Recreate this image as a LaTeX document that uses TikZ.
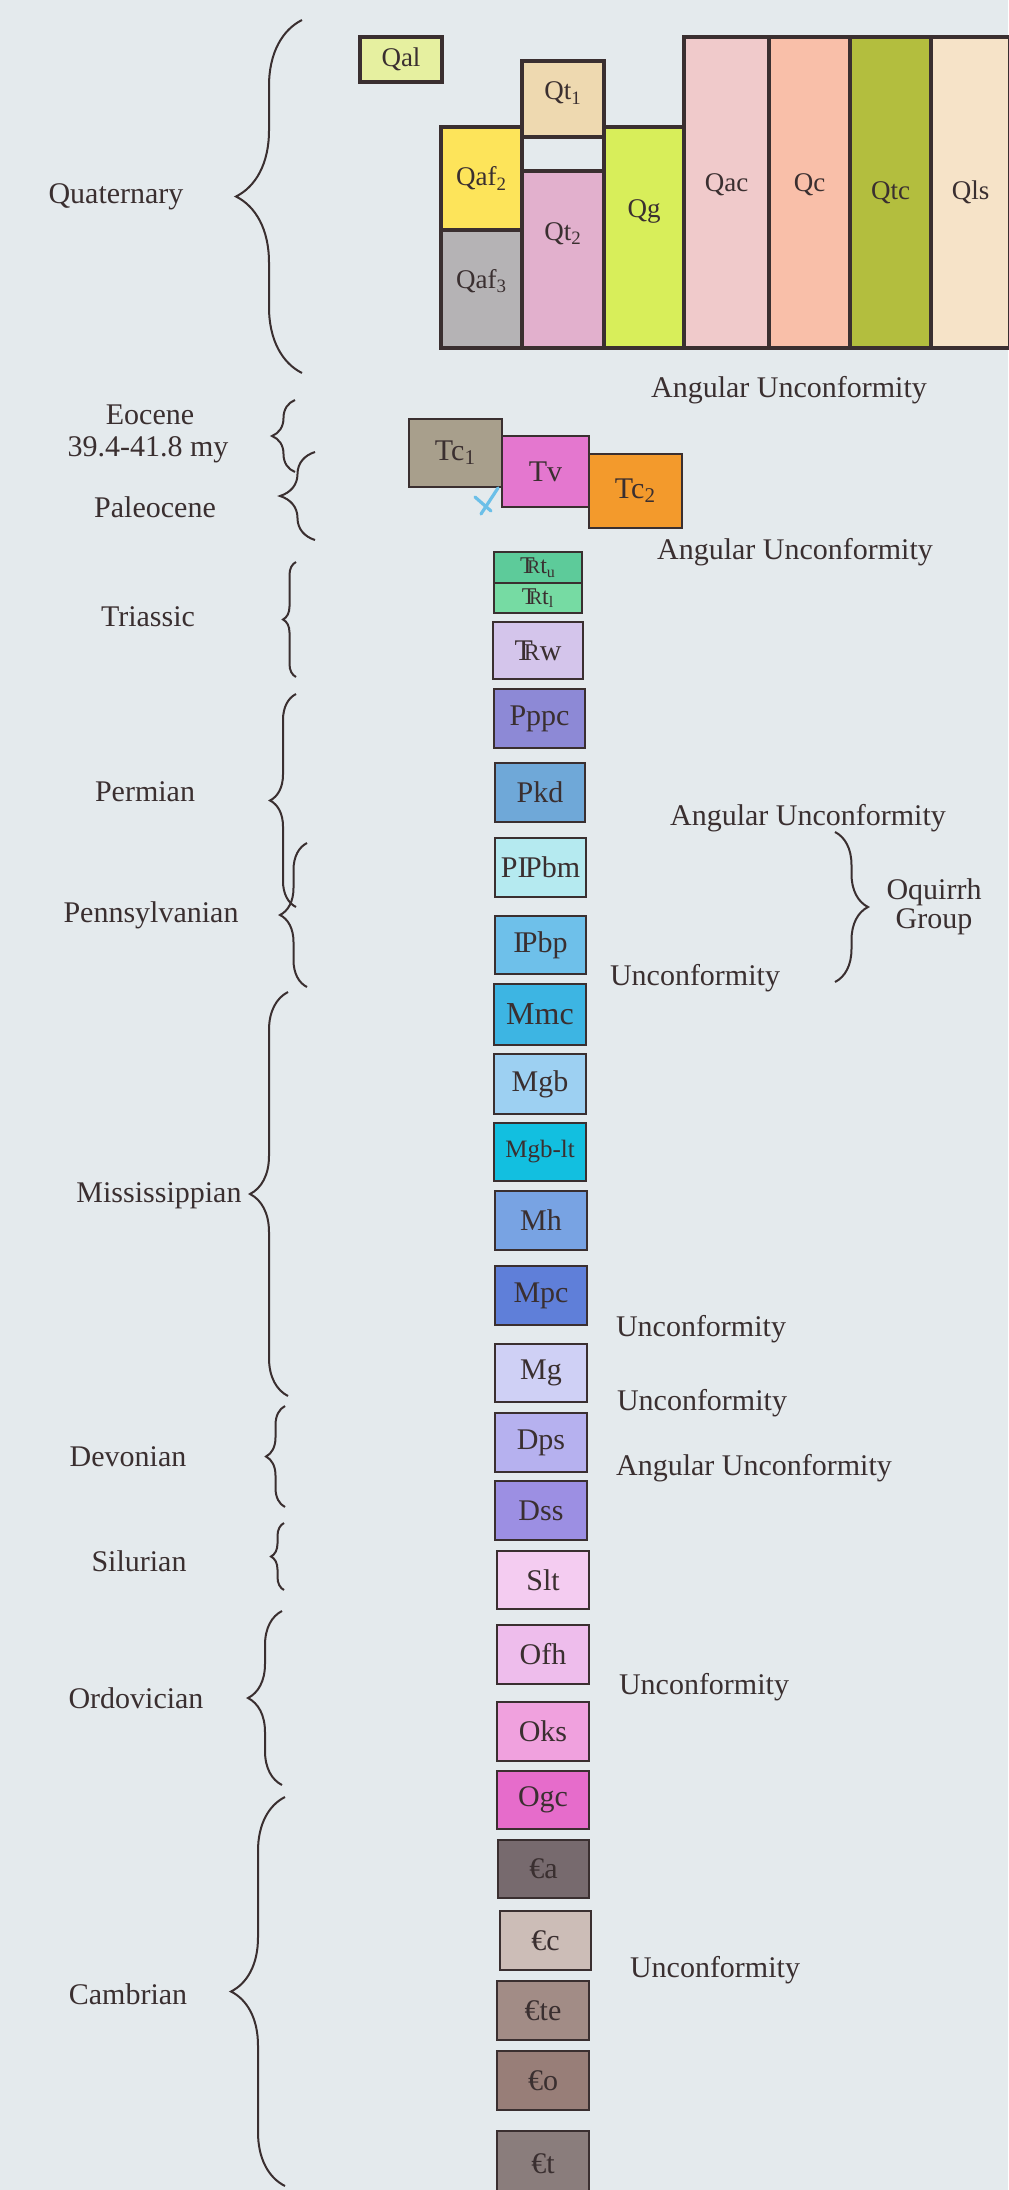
\documentclass[tikz,border=0pt]{standalone}
\usepackage{fontspec}
\setmainfont{Liberation Serif}
\usetikzlibrary{decorations.pathreplacing}

\definecolor{bg}{HTML}{E4EAED}
\definecolor{edge}{HTML}{3A2F30}
\definecolor{tick}{HTML}{6BBFE8}
\definecolor{cQal}{HTML}{E6F0A0}
\definecolor{cQtone}{HTML}{EED9B0}
\definecolor{cQaftwo}{HTML}{FDE45A}
\definecolor{cQafthree}{HTML}{B5B3B5}
\definecolor{cQttwo}{HTML}{E2B0CD}
\definecolor{cQg}{HTML}{D8EE5A}
\definecolor{cQac}{HTML}{F0CACB}
\definecolor{cQc}{HTML}{F9BFA9}
\definecolor{cQtc}{HTML}{B3BE3E}
\definecolor{cQls}{HTML}{F6E3C8}
\definecolor{cTcone}{HTML}{A89F8C}
\definecolor{cTv}{HTML}{E477CF}
\definecolor{cTctwo}{HTML}{F39A2C}
\definecolor{cTru}{HTML}{5DCB9A}
\definecolor{cTrl}{HTML}{76DBA3}
\definecolor{cTrw}{HTML}{D4C5EB}
\definecolor{cPppc}{HTML}{8D89D6}
\definecolor{cPkd}{HTML}{6FA8D8}
\definecolor{cPPbm}{HTML}{B5EAF0}
\definecolor{cPPbp}{HTML}{6EC0EA}
\definecolor{cMmc}{HTML}{3DB5E3}
\definecolor{cMgb}{HTML}{9DD0F2}
\definecolor{cMgblt}{HTML}{12BFE0}
\definecolor{cMh}{HTML}{78A3E3}
\definecolor{cMpc}{HTML}{5F7FD9}
\definecolor{cMg}{HTML}{CFD0F5}
\definecolor{cDps}{HTML}{B6B1EF}
\definecolor{cDss}{HTML}{9C8FE3}
\definecolor{cSlt}{HTML}{F4CCF1}
\definecolor{cOfh}{HTML}{EEBDEC}
\definecolor{cOks}{HTML}{F0A1DE}
\definecolor{cOgc}{HTML}{E66CCB}
\definecolor{cCa}{HTML}{776A6E}
\definecolor{cCc}{HTML}{CCBDB7}
\definecolor{cCte}{HTML}{A28C86}
\definecolor{cCo}{HTML}{987E78}
\definecolor{cCt}{HTML}{8A7D7C}

\newcommand{\triassic}{T\kern-.3em\scalebox{.8}{R}}
\newcommand{\penn}{I\kern-.08em P}

\begin{document}
\begin{tikzpicture}[x=0.5pt, y=-0.5pt, font=\fontsize{15}{15}\selectfont, text=edge,
    unitbox/.style={draw=edge, line width=1.4pt},
    qbox/.style={draw=edge, line width=1.6pt},
    qlabel/.style={font=\fontsize{13.5}{13.5}\selectfont},
    small/.style={font=\fontsize{12}{12}\selectfont, inner sep=1pt},
    erabrace/.style={decorate, decoration={brace, amplitude=#1}, draw=edge, line width=1pt}]

    \fill[bg] (0,0) rectangle (1008,2190);
    \useasboundingbox (0,0) rectangle (1008,2190);

    % Quaternary
    \draw[qbox, fill=cQal] (360,37) rectangle (442,82) node[midway, qlabel] (Qal) {Qal};
    \draw[qbox, fill=cQtone] (522,61) rectangle (604,137) node[midway, qlabel, yshift=3pt] (Qt1) {Qt\textsubscript{1}};
    \draw[qbox, fill=cQaftwo] (441,127) rectangle (522,230) node[midway, qlabel] (Qaf2) {Qaf\textsubscript{2}};
    \draw[qbox, fill=cQafthree] (441,230) rectangle (522,348) node[midway, qlabel, yshift=4pt] (Qaf3) {Qaf\textsubscript{3}};
    \draw[qbox, fill=cQttwo] (522,171) rectangle (604,348) node[midway, qlabel, yshift=13pt] (Qt2) {Qt\textsubscript{2}};
    \draw[qbox, fill=cQg] (604,127) rectangle (684,348) node[midway, qlabel, yshift=13pt] (Qg) {Qg};
    \draw[qbox, fill=cQac] (684,37) rectangle (769,348) node[midway, qlabel, yshift=4pt] (Qac) {Qac};
    \draw[qbox, fill=cQc] (769,37) rectangle (850,348) node[midway, qlabel, yshift=4pt] (Qc) {Qc};
    \draw[qbox, fill=cQtc] (850,37) rectangle (931,348) node[midway, qlabel] (Qtc) {Qtc};
    \draw[qbox, fill=cQls] (931,37) rectangle (1010,348) node[midway, qlabel] (Qls) {Qls};

    % Tertiary
    \draw[unitbox, fill=cTcone] (409,419) rectangle (502,487) node[midway] (Tc1) {Tc\textsubscript{1}};
    \draw[unitbox, fill=cTv] (502,436) rectangle (589,507) node[midway] (Tv) {Tv};
    \draw[unitbox, fill=cTctwo] (589,454) rectangle (682,528) node[midway] (Tc2) {Tc\textsubscript{2}};
    \draw[tick, line width=1.6pt, line cap=round] (498,488) -- (481,514);
    \draw[tick, line width=1.6pt, line cap=round] (475,497) -- (491,511);

    % column
    \draw[unitbox, fill=cTru] (494,552) rectangle (582,583) node[midway, small] (Tru) {\triassic t\textsubscript{u}};
    \draw[unitbox, fill=cTrl] (494,583) rectangle (582,613) node[midway, small] (Trl) {\triassic t\textsubscript{l}};
    \draw[unitbox, fill=cTrw] (493,622) rectangle (583,679) node[midway] (Trw) {\triassic w};
    \draw[unitbox, fill=cPppc] (494,689) rectangle (585,748) node[midway] (Pppc) {Pppc};
    \draw[unitbox, fill=cPkd] (495,763) rectangle (585,822) node[midway] (Pkd) {Pkd};
    \draw[unitbox, fill=cPPbm] (495,838) rectangle (586,897) node[midway] (PPbm) {P\penn bm};
    \draw[unitbox, fill=cPPbp] (495,916) rectangle (586,974) node[midway] (PPbp) {\penn bp};
    \draw[unitbox, fill=cMmc] (494,984) rectangle (586,1045) node[midway, font=\fontsize{16}{16}\selectfont] (Mmc) {Mmc};
    \draw[unitbox, fill=cMgb] (494,1054) rectangle (586,1114) node[midway] (Mgb) {Mgb};
    \draw[unitbox, fill=cMgblt] (494,1123) rectangle (586,1181) node[midway, font=\fontsize{12.5}{12.5}\selectfont] (Mgblt) {Mgb-lt};
    \draw[unitbox, fill=cMh] (495,1191) rectangle (587,1250) node[midway] (Mh) {Mh};
    \draw[unitbox, fill=cMpc] (495,1266) rectangle (587,1325) node[midway] (Mpc) {Mpc};
    \draw[unitbox, fill=cMg] (495,1344) rectangle (587,1402) node[midway] (Mg) {Mg};
    \draw[unitbox, fill=cDps] (495,1413) rectangle (587,1472) node[midway] (Dps) {Dps};
    \draw[unitbox, fill=cDss] (495,1481) rectangle (587,1540) node[midway] (Dss) {Dss};
    \draw[unitbox, fill=cSlt] (497,1551) rectangle (589,1609) node[midway] (Slt) {Slt};
    \draw[unitbox, fill=cOfh] (497,1625) rectangle (589,1684) node[midway] (Ofh) {Ofh};
    \draw[unitbox, fill=cOks] (497,1702) rectangle (589,1761) node[midway] (Oks) {Oks};
    \draw[unitbox, fill=cOgc] (497,1771) rectangle (589,1829) node[midway] (Ogc) {Ogc};
    \draw[unitbox, fill=cCa] (498,1840) rectangle (589,1898) node[midway] (Ca) {€a};
    \draw[unitbox, fill=cCc] (500,1911) rectangle (591,1970) node[midway] (Cc) {€c};
    \draw[unitbox, fill=cCte] (497,1981) rectangle (589,2040) node[midway] (Cte) {€te};
    \draw[unitbox, fill=cCo] (497,2051) rectangle (589,2110) node[midway] (Co) {€o};
    \draw[unitbox, fill=cCt] (497,2131) rectangle (589,2196) node[midway] (Ct) {€t};

    % periods
    \node (quaternary) at (116,197) {Quaternary};
    \node[inner sep=1pt] (eocene) at (150,415) {Eocene};
    \node[inner sep=1pt] (eoceneage) at (148,450) {39.4-41.8 my};
    \node (paleocene) at (155,507) {Paleocene};
    \node (triassic) at (148,617) {Triassic};
    \node (permian) at (145,792) {Permian};
    \node (pennsylvanian) at (151,915) {Pennsylvanian};
    \node (mississippian) at (159,1196) {Mississippian};
    \node (devonian) at (128,1457) {Devonian};
    \node (silurian) at (139,1561) {Silurian};
    \node (ordovician) at (136,1698) {Ordovician};
    \node (cambrian) at (128,1994) {Cambrian};

    \draw[erabrace=33pt] (302,373) -- (302,20);
    \draw[erabrace=11.5pt] (295,472) -- (295,400);
    \draw[erabrace=17.5pt] (315,540) -- (315,452);
    \draw[erabrace=6.5pt] (296,677) -- (296,562);
    \draw[erabrace=13pt] (296,907) -- (296,694);
    \draw[erabrace=13.5pt] (307,987) -- (307,843);
    \draw[erabrace=19pt] (288,1396) -- (288,992);
    \draw[erabrace=9.5pt] (285,1507) -- (285,1406);
    \draw[erabrace=6.5pt] (284,1590) -- (284,1523);
    \draw[erabrace=17pt] (282,1785) -- (282,1611);
    \draw[erabrace=27pt] (285,2186) -- (285,1797);

    % Oquirrh Group
    \draw[erabrace=16.5pt] (835,832) -- (835,982);
    \node[align=center, font=\fontsize{15}{14.5}\selectfont] (oquirrh) at (934,907) {Oquirrh\\Group};

    % contacts
    \node (angular1) at (789,390) {Angular Unconformity};
    \node (angular2) at (795,552) {Angular Unconformity};
    \node (angular3) at (808,818) {Angular Unconformity};
    \node (angular4) at (754,1468) {Angular Unconformity};
    \node (uncon1) at (695,978) {Unconformity};
    \node (uncon2) at (701,1329) {Unconformity};
    \node (uncon3) at (702,1403) {Unconformity};
    \node (uncon4) at (704,1687) {Unconformity};
    \node (uncon5) at (715,1970) {Unconformity};
\end{tikzpicture}
\end{document}
